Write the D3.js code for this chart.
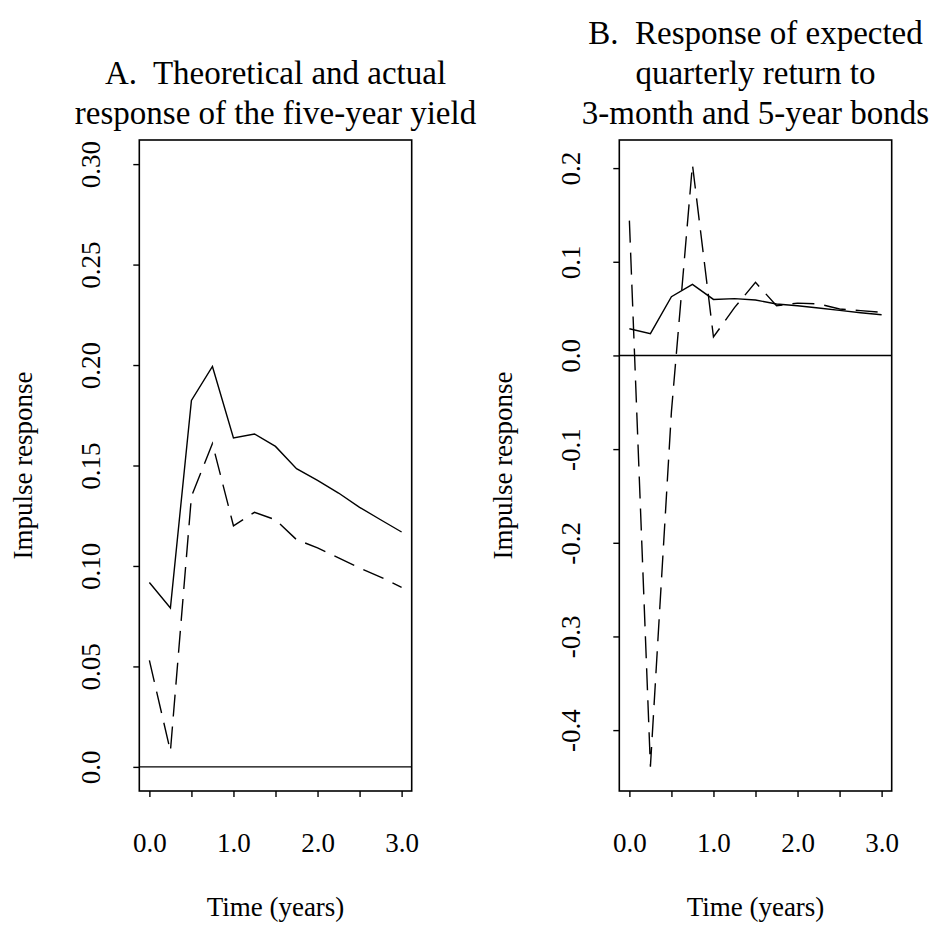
<!DOCTYPE html>
<html>
<head>
<meta charset="utf-8">
<script src="https://cdn.jsdelivr.net/npm/d3@7/dist/d3.min.js"></script>
<style>
  html, body { margin: 0; padding: 0; background: #fff; }
  svg text { font-family: "Liberation Serif", "DejaVu Serif", serif; fill: #000; white-space: pre; }
</style>
</head>
<body>
<svg id="chart" width="934" height="925"></svg>
<script>
// ---- data ----
const years = [0, 0.25, 0.5, 0.75, 1.0, 1.25, 1.5, 1.75, 2.0, 2.25, 2.5, 2.75, 3.0];

// Panel A: response of five-year yield
const aTheoretical = [0.0918, 0.0791, 0.1824, 0.1993, 0.1637, 0.1657, 0.1595, 0.1484, 0.1426, 0.1363, 0.1292, 0.1230, 0.1169];
const aActual      = [0.0530, 0.0078, 0.1346, 0.1609, 0.1200, 0.1267, 0.1230, 0.1131, 0.1090, 0.1040, 0.0990, 0.0945, 0.0894];

// Panel B: response of expected quarterly return
const bSolid  = [0.0285, 0.0232, 0.0627, 0.0759, 0.0598, 0.0606, 0.0592, 0.0549, 0.0531, 0.0506, 0.0481, 0.0456, 0.0435];
const bDashed = [0.1439, -0.4390, -0.0600, 0.2037, 0.0197, 0.0510, 0.0780, 0.0530, 0.0558, 0.0550, 0.0496, 0.0478, 0.0460];

const xTickValues = [0, 0.5, 1, 1.5, 2, 2.5, 3];
const xTickLabels = {0: "0.0", 1: "1.0", 2: "2.0", 3: "3.0"};

const aYTickValues = [0, 0.05, 0.10, 0.15, 0.20, 0.25, 0.30];
const aYTickLabels = ["0.0", "0.05", "0.10", "0.15", "0.20", "0.25", "0.30"];
const bYTickValues = [-0.4, -0.3, -0.2, -0.1, 0, 0.1, 0.2];
const bYTickLabels = ["-0.4", "-0.3", "-0.2", "-0.1", "0.0", "0.1", "0.2"];

const aTitle = ["A.  Theoretical and actual", "response of the five-year yield"];
const bTitle = ["B.  Response of expected", "quarterly return to", "3-month and 5-year bonds"];
const xLabel = "Time (years)";
const yLabel = "Impulse response";

// ---- layout ----
const svg = d3.select("#chart");
const boxTop = 140, boxBottom = 791, boxW = 272.4;

function panel(left, yDomain, yTicks, yLabels, solid, dashed, titleLines) {
  const right = left + boxW;
  const x = d3.scaleLinear().domain([-0.12, 3.12]).range([left, right]);
  const y = d3.scaleLinear().domain(yDomain).range([boxBottom, boxTop]);
  const g = svg.append("g");

  // zero line
  g.append("line")
    .attr("x1", left).attr("x2", right)
    .attr("y1", y(0)).attr("y2", y(0))
    .attr("stroke", "#000").attr("stroke-width", 1.4);

  const line = d3.line().x((d, i) => x(years[i])).y(d => y(d));

  g.append("path").datum(solid)
    .attr("d", line).attr("fill", "none")
    .attr("stroke", "#000").attr("stroke-width", 1.4)
    .attr("stroke-linejoin", "miter");

  g.append("path").datum(dashed)
    .attr("d", line).attr("fill", "none")
    .attr("stroke", "#000").attr("stroke-width", 1.4)
    .attr("stroke-dasharray", "22,10");

  // box
  g.append("rect")
    .attr("x", left).attr("y", boxTop)
    .attr("width", boxW).attr("height", boxBottom - boxTop)
    .attr("fill", "none").attr("stroke", "#000").attr("stroke-width", 1.6);

  // x axis
  const xAxis = g.append("g")
    .attr("transform", `translate(0,${boxBottom})`)
    .call(d3.axisBottom(x).tickValues(xTickValues).tickSize(6).tickSizeOuter(0)
      .tickFormat(d => xTickLabels[d] !== undefined ? xTickLabels[d] : ""));
  xAxis.select(".domain").remove();
  xAxis.selectAll(".tick line").attr("stroke", "#000").attr("stroke-width", 1.4);
  xAxis.selectAll(".tick text")
    .attr("y", 61).attr("dy", 0)
    .style("font-size", "27px")
    .style("font-family", '"Liberation Serif", serif');

  // y axis
  const yAxis = g.append("g")
    .attr("transform", `translate(${left},0)`)
    .call(d3.axisLeft(y).tickValues(yTicks).tickSize(6).tickSizeOuter(0)
      .tickFormat((d, i) => yLabels[i]));
  yAxis.select(".domain").remove();
  yAxis.selectAll(".tick line").attr("stroke", "#000").attr("stroke-width", 1.4);
  yAxis.selectAll(".tick text")
    .attr("transform", "rotate(-90)")
    .attr("x", 0).attr("y", -39).attr("dy", 0)
    .attr("text-anchor", "middle")
    .style("font-size", "27px")
    .style("font-family", '"Liberation Serif", serif');

  const cx = (left + right) / 2;
  // x label
  g.append("text").attr("x", cx).attr("y", 916)
    .attr("text-anchor", "middle").style("font-size", "27px").text(xLabel);
  // y label
  g.append("text")
    .attr("transform", `translate(${left - 107},${(boxTop + boxBottom) / 2}) rotate(-90)`)
    .attr("text-anchor", "middle").style("font-size", "27px").text(yLabel);

  // title
  const n = titleLines.length;
  titleLines.forEach((t, i) => {
    g.append("text").attr("x", cx).attr("y", 124 - (n - 1 - i) * 40)
      .attr("text-anchor", "middle").attr("xml:space", "preserve")
      .style("font-size", "33px").text(t);
  });
}

panel(139.3, [-0.012, 0.312], aYTickValues, aYTickLabels, aTheoretical, aActual, aTitle);
panel(619.3, [-0.465, 0.23], bYTickValues, bYTickLabels, bSolid, bDashed, bTitle);
</script>
</body>
</html>
